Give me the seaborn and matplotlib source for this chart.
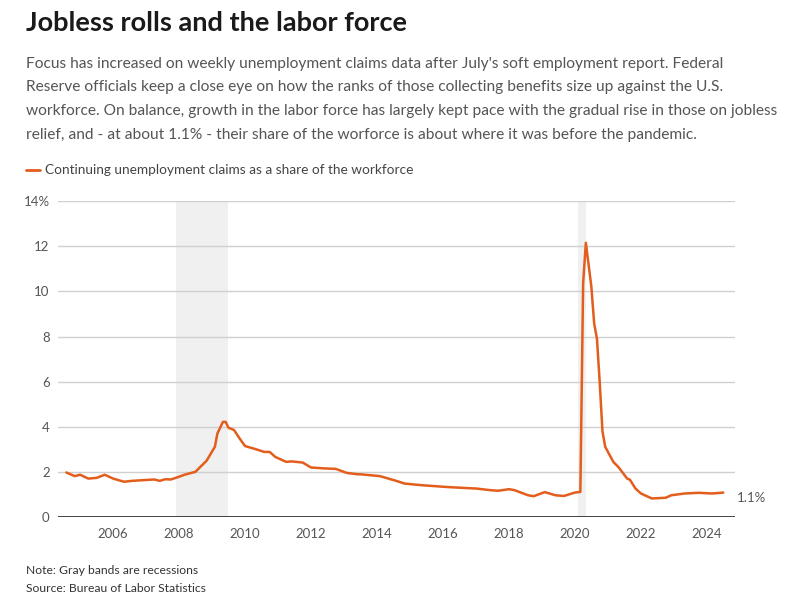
import matplotlib
matplotlib.use("Agg")
import matplotlib.pyplot as plt
import matplotlib.dates as mdates
import seaborn as sns
import pandas as pd

dates = ["2004-08", "2004-11", "2005-01", "2005-04", "2005-07", "2005-10", "2006-01",
         "2006-05", "2006-08", "2007-04", "2007-06", "2007-08", "2007-10", "2008-01",
         "2008-03", "2008-07", "2008-09", "2008-11", "2009-02", "2009-03", "2009-05",
         "2009-06", "2009-07", "2009-09", "2009-11", "2010-01", "2010-05", "2010-08",
         "2010-10", "2010-12", "2011-04", "2011-06", "2011-10", "2012-01", "2012-06",
         "2012-10", "2012-12", "2013-02", "2013-06", "2013-07", "2014-02", "2014-08",
         "2014-11", "2015-05", "2016-02", "2016-08", "2017-01", "2017-06", "2017-09",
         "2018-01", "2018-03", "2018-08", "2018-10", "2019-02", "2019-06", "2019-09",
         "2020-01", "2020-03", "2020-04", "2020-05", "2020-07", "2020-08", "2020-09",
         "2020-10", "2020-11", "2020-12", "2021-03", "2021-05", "2021-08", "2021-09",
         "2021-11", "2022-01", "2022-05", "2022-10", "2022-12", "2023-05", "2023-10",
         "2024-03", "2024-07"]
share = [1.98, 1.82, 1.88, 1.71, 1.74, 1.88, 1.71,
         1.57, 1.61, 1.67, 1.61, 1.68, 1.67, 1.79,
         1.88, 2.01, 2.26, 2.50, 3.12, 3.71, 4.22,
         4.22, 3.96, 3.86, 3.49, 3.15, 3.01, 2.89,
         2.89, 2.67, 2.45, 2.47, 2.42, 2.20, 2.16,
         2.14, 2.05, 1.96, 1.90, 1.90, 1.82, 1.61,
         1.49, 1.42, 1.34, 1.30, 1.27, 1.20, 1.17,
         1.24, 1.20, 0.97, 0.93, 1.11, 0.97, 0.94,
         1.09, 1.12, 10.37, 12.15, 10.2, 8.58, 7.9,
         6.0, 3.8, 3.12, 2.45, 2.2, 1.71, 1.66,
         1.27, 1.05, 0.83, 0.86, 0.97, 1.05, 1.08,
         1.05, 1.09]
recessions = [("2007-12-01", "2009-06-30"), ("2020-02-01", "2020-04-30")]
y_ticks = [0, 2, 4, 6, 8, 10, 12, 14]
y_labels = ["0", "2", "4", "6", "8", "10", "12", "14%"]
end_label = "1.1%"

title = "Jobless rolls and the labor force"
subtitle_lines = [
    "Focus has increased on weekly unemployment claims data after July's soft employment report. Federal",
    "Reserve officials keep a close eye on how the ranks of those collecting benefits size up against the U.S.",
    "workforce. On balance, growth in the labor force has largely kept pace with the gradual rise in those on jobless",
    "relief, and - at about 1.1% - their share of the worforce is about where it was before the pandemic.",
]
legend_text = "Continuing unemployment claims as a share of the workforce"
note = "Note: Gray bands are recessions"
source = "Source: Bureau of Labor Statistics"

df = pd.DataFrame({"date": pd.to_datetime(dates), "share": share})

sns.set_theme(style="white")
plt.rcParams["font.family"] = ["Lato", "DejaVu Sans"]

orange = "#e35d1c"
fig = plt.figure(figsize=(8, 6), dpi=100)
ax = fig.add_axes([0.0725, 0.138, 0.846, 0.527])

for s, e in recessions:
    ax.axvspan(pd.Timestamp(s), pd.Timestamp(e), color="#f0f0f0", zorder=0, lw=0)

for t in y_ticks[1:]:
    ax.axhline(t, color="#d0d0d0", lw=1, zorder=1)
ax.axhline(0, color="#222222", lw=1.2, zorder=3)

sns.lineplot(data=df, x="date", y="share", ax=ax, color=orange, lw=1.8, zorder=4)

ax.set_xlim(pd.Timestamp("2004-05-01"), pd.Timestamp("2024-11-05"))
ax.set_ylim(0, 14)
ax.set_yticks(y_ticks)
ax.set_yticklabels(y_labels)
ax.xaxis.set_major_locator(mdates.YearLocator(2))
ax.xaxis.set_major_formatter(mdates.DateFormatter("%Y"))
ax.tick_params(axis="both", length=0, labelsize=9.5, labelcolor="#555555")
ax.tick_params(axis="y", pad=6)
ax.tick_params(axis="x", pad=8)
ax.set_xlabel("")
ax.set_ylabel("")
for sp in ax.spines.values():
    sp.set_visible(False)

last = df.iloc[-1]
ax.annotate(end_label, xy=(last["date"], last["share"]), xytext=(10, -4),
            textcoords="offset points", va="center", ha="left",
            fontsize=9.5, color="#555555")

fig.text(26/800, 1 - 23/600, title, fontsize=19.5, fontweight="bold", color="#1a1a1a",
         va="center", ha="left")
for i, line in enumerate(subtitle_lines):
    fig.text(26/800, 1 - (64 + i * 23.5)/600, line, fontsize=11.2, color="#555555",
             va="center", ha="left")
fig.add_artist(plt.Line2D([26/800, 40/800], [1 - 170/600, 1 - 170/600], color=orange, lw=2))
fig.text(45/800, 1 - 170/600, legend_text, fontsize=9.8, color="#444444", va="center", ha="left")
fig.text(26/800, 1 - 570/600, note, fontsize=8.7, color="#333333", va="center", ha="left")
fig.text(26/800, 1 - 588/600, source, fontsize=8.7, color="#333333", va="center", ha="left")

fig.savefig("out.png", dpi=100, facecolor="white")
